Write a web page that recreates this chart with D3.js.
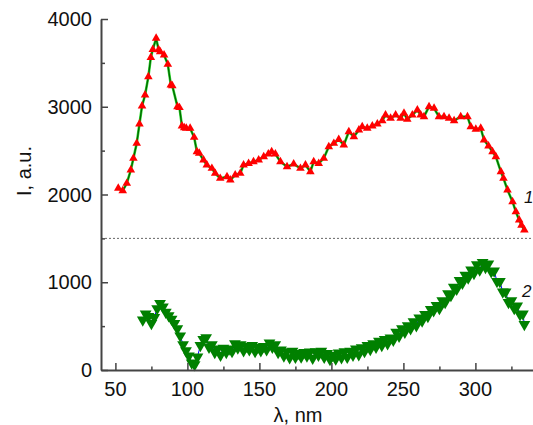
<!DOCTYPE html>
<html>
<head>
<meta charset="utf-8">
<script src="https://cdn.jsdelivr.net/npm/d3@7"></script>
<style>
  body { margin: 0; background: #fff; }
  text { font-family: "Liberation Sans", Arial, sans-serif; }
</style>
</head>
<body>
<div class="canvas"></div>
<script>
// curve 1 (red triangles)
const wl1 = [52.0, 55.1, 57.9, 60.7, 62.5, 64.8, 66.7, 68.5, 70.6, 72.9, 74.6, 76.0, 78.3, 80.0, 81.1, 83.8,
  86.4, 88.5, 89.5, 93.1, 94.5, 96.2, 97.8, 99.2, 101.9, 104.7, 106.6, 108.2, 111.2, 113.5, 117.0, 119.3,
  122.8, 127.5, 129.8, 133.2, 136.7, 139.0, 142.5, 145.9, 149.5, 153.0, 156.2, 158.5, 161.1, 164.6, 169.2,
  173.8, 178.5, 182.0, 185.4, 187.7, 191.2, 194.7, 198.2, 201.7, 205.1, 208.6, 212.1, 215.6, 219.1, 221.4,
  224.9, 228.4, 231.9, 235.3, 237.6, 241.1, 244.6, 248.1, 250.4, 252.7, 256.2, 259.7, 262.0, 264.3, 267.8,
  271.3, 274.7, 278.2, 281.7, 285.2, 289.8, 294.5, 296.8, 300.3, 303.7, 306.0, 309.1, 311.9, 314.2, 317.7,
  319.5, 322.3, 325.8, 328.1, 330.4, 332.0, 334.0];
const int1 = [2071, 2043, 2127, 2279, 2412, 2583, 2803, 3009, 3134, 3343, 3562, 3653, 3780, 3650, 3627, 3590,
  3483, 3248, 3240, 3001, 2990, 2781, 2760, 2754, 2754, 2651, 2488, 2470, 2393, 2336, 2298, 2241,
  2184, 2203, 2165, 2222, 2241, 2336, 2354, 2374, 2393, 2431, 2461, 2488, 2461, 2374, 2317,
  2348, 2298, 2336, 2260, 2374, 2354, 2412, 2545, 2583, 2628, 2564, 2716, 2659, 2735, 2773,
  2754, 2781, 2803, 2841, 2906, 2868, 2906, 2868, 2925, 2857, 2906, 2963, 2906, 2887, 3001,
  2982, 2887, 2887, 2868, 2841, 2887, 2887, 2773, 2743, 2754, 2621, 2553, 2488, 2431, 2260,
  2184, 2051, 1918, 1804, 1709, 1650, 1595];

// curve 2 (green triangles)
const wl2 = [69, 71, 73, 75, 77, 79, 81, 83, 85, 87, 89, 91, 93, 95, 97, 99, 101, 103, 105, 107, 109, 111,
  113, 115, 117, 119, 121, 123, 125, 127, 129, 131, 133, 135, 137, 139, 141, 143, 145, 147, 149, 151, 153,
  155, 157, 159, 161, 163, 165, 167, 169, 171, 173, 175, 177, 179, 181, 183, 185, 187, 189, 191, 193, 195,
  197, 199, 201, 203, 205, 207, 209, 211, 213, 215, 217, 219, 221, 223, 225, 227, 229, 231, 233, 235, 237,
  239, 241, 243, 245, 247, 249, 251, 253, 255, 257, 259, 261, 263, 265, 267, 269, 271, 273, 275, 277, 279,
  281, 283, 285, 287, 289, 291, 293, 295, 297, 299, 301, 303, 305, 307, 309, 311, 313, 315, 317, 319, 321,
  323, 325, 327, 329, 331, 333, 334];
const int2 = [570, 640, 610, 530, 600, 700, 760, 720, 660, 620, 580, 530, 470, 390, 290, 220, 160, 80, 60, 150, 280, 350,
  370, 260, 290, 200, 240, 170, 250, 200, 240, 210, 300, 250, 290, 220, 270, 230, 280, 210, 260, 220, 270,
  230, 310, 260, 290, 200, 230, 160, 210, 140, 215, 145, 190, 150, 200, 160, 205, 135, 210, 170, 215, 145,
  190, 120, 170, 125, 195, 140, 210, 145, 215, 170, 240, 175, 255, 210, 280, 235, 300, 260, 330, 280, 350,
  300, 365, 340, 430, 385, 470, 430, 505, 470, 550, 505, 595, 560, 635, 610, 690, 675, 735, 700, 790, 770,
  870, 850, 945, 920, 1020, 990, 1080, 1050, 1140, 1100, 1200, 1140, 1225, 1170, 1210, 1120, 1130, 1010, 1010, 890, 890,
  770, 790, 700, 730, 630, 640, 520];

const xTicks = [50, 100, 150, 200, 250, 300];
const yTicks = [0, 1000, 2000, 3000, 4000];
const separator = 1500;

const W = 533, H = 425;
const svg = d3.select(".canvas")
  .append("svg")
    .attr("width", W)
    .attr("height", H);

const x = d3.scaleLinear().domain([40, 340]).range([101, 533]);
const y = d3.scaleLinear().domain([0, 4000]).range([370, 19]);

// dotted separator between curves
svg.append("line")
  .attr("x1", x(40)).attr("x2", x(340))
  .attr("y1", y(separator)).attr("y2", y(separator))
  .attr("stroke", "#666")
  .attr("stroke-width", 1)
  .attr("stroke-dasharray", "2,2");

const pts1 = wl1.map((d, i) => [d, int1[i]]);
const pts2 = wl2.map((d, i) => [d, int2[i]]);
const line = d3.line().x(d => x(d[0])).y(d => y(d[1]));

// curve 2: thin blue line under green down-triangles
svg.append("path").datum(pts2)
  .attr("d", line).attr("fill", "none")
  .attr("stroke", "#0000ff").attr("stroke-width", 1);
svg.append("g").selectAll("path")
  .data(pts2)
  .enter().append("path")
    .attr("d", d3.symbol(d3.symbolTriangle, 60))
    .attr("transform", d => `translate(${x(d[0])},${y(d[1])}) rotate(180)`)
    .attr("fill", "#008000");

// curve 1: green line under red triangles
svg.append("path").datum(pts1)
  .attr("d", line).attr("fill", "none")
  .attr("stroke", "#33dd33").attr("stroke-width", 2.6);
svg.append("path").datum(pts1)
  .attr("d", line).attr("fill", "none")
  .attr("stroke", "#006a00").attr("stroke-width", 1.4);
svg.append("g").selectAll("path")
  .data(pts1)
  .enter().append("path")
    .attr("d", d3.symbol(d3.symbolTriangle, 32))
    .attr("transform", d => `translate(${x(d[0])},${y(d[1])})`)
    .attr("fill", "#ff0000");

// axes, ticks pointing inward
const xAxisGroup = svg.append("g").attr("transform", `translate(0,${y(0)})`);
xAxisGroup.call(d3.axisBottom(x).tickValues(d3.range(50, 340, 25)).tickSizeInner(-3.5).tickSizeOuter(0).tickFormat(""));
xAxisGroup.call(g => g.selectAll(".tick").filter(d => xTicks.includes(d)).select("line").attr("y2", -7));
xAxisGroup.selectAll(".label").data(xTicks).enter().append("text")
  .attr("class", "label")
  .attr("x", d => x(d)).attr("y", 26)
  .attr("text-anchor", "middle")
  .attr("font-size", 20)
  .attr("fill", "#111")
  .text(d => d);

const yAxisGroup = svg.append("g").attr("transform", `translate(${x(40)},0)`);
yAxisGroup.call(d3.axisLeft(y).tickValues(d3.range(0, 4001, 500)).tickSizeInner(-4).tickSizeOuter(0).tickFormat(""));
yAxisGroup.call(g => g.selectAll(".tick").filter(d => yTicks.includes(d)).select("line").attr("x2", 7));
yAxisGroup.selectAll(".label").data(yTicks).enter().append("text")
  .attr("class", "label")
  .attr("x", -9).attr("y", d => y(d))
  .attr("dy", "0.36em")
  .attr("text-anchor", "end")
  .attr("font-size", 20)
  .attr("fill", "#111")
  .text(d => d);

svg.selectAll(".domain").attr("stroke", "#444").attr("stroke-width", 2);
svg.selectAll(".tick line").attr("stroke", "#444").attr("stroke-width", 1.5);

// axis titles
svg.append("text")
  .attr("x", 298).attr("y", 422)
  .attr("text-anchor", "middle")
  .attr("font-size", 20)
  .attr("fill", "#111")
  .text("λ, nm");
svg.append("text")
  .attr("transform", "translate(31,171) rotate(-90)")
  .attr("text-anchor", "middle")
  .attr("font-size", 20)
  .attr("fill", "#111")
  .text("I, a.u.");

// curve numbers
svg.append("text")
  .attr("x", 524).attr("y", 203)
  .attr("font-size", 17).attr("font-style", "italic")
  .attr("fill", "#111")
  .text("1");
svg.append("text")
  .attr("x", 522).attr("y", 297)
  .attr("font-size", 17).attr("font-style", "italic")
  .attr("fill", "#111")
  .text("2");
</script>
</body>
</html>
